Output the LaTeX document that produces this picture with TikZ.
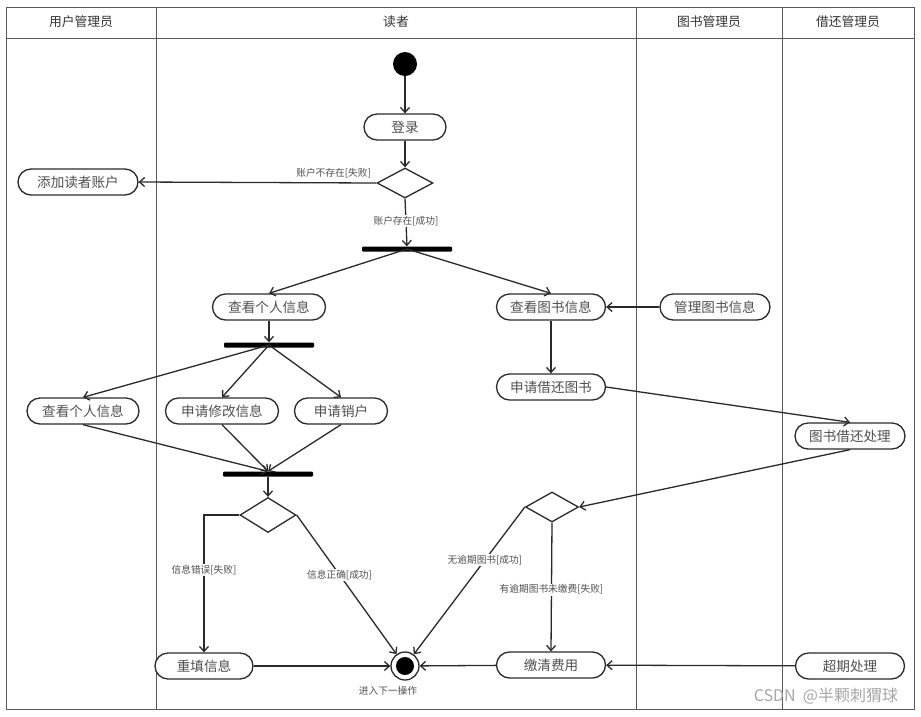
\documentclass[tikz,border=0pt]{standalone}
\usepackage{fontspec}
\newfontfamily\cjk{Noto Sans CJK SC}
\usetikzlibrary{shapes.geometric,arrows.meta}
\definecolor{ln}{HTML}{2A2A2A}
\definecolor{tx}{HTML}{505050}
\tikzset{
  act/.style={draw=ln, line width=1.3pt, rectangle, rounded corners=13pt, minimum height=26pt,
    inner sep=0pt, text=tx, font=\cjk\fontsize{13.6}{14}\selectfont, fill=white},
  bar/.style={fill=black, rectangle, minimum height=5pt, inner sep=0pt, rounded corners=1pt},
  dia/.style={draw=ln, line width=1.3pt, diamond, inner sep=0pt, fill=white},
  ar/.style={draw=ln, line width=1.3pt, -{Straight Barb[length=5pt,width=9pt]}},
  lbl/.style={text=tx, font=\cjk\fontsize{9.7}{10}\selectfont, inner sep=1pt},
  hdr/.style={text=black!80, font=\cjk\fontsize{12.8}{13}\selectfont},
  frm/.style={draw=black!65, line width=0.8pt}
}
\begin{document}
\begin{tikzpicture}[x=1pt,y=-1pt]
\useasboundingbox[fill=white] (0,0) rectangle (921,716);
% frame
\draw[frm] (6,7) rectangle (914,709);
\draw[frm] (6,38) -- (914,38);
\draw[frm] (156,7) -- (156,709);
\draw[frm] (636,7) -- (636,709);
\draw[frm] (782,7) -- (782,709);
\node[hdr] (h1) at (81,22) {用户管理员};
\node[hdr] (h2) at (396,22) {读者};
\node[hdr] (h3) at (709,22) {图书管理员};
\node[hdr] (h4) at (848,22) {借还管理员};
% nodes
\node[circle, fill=black, minimum size=24pt, inner sep=0pt] (start) at (405,64) {};
\node[act, minimum width=82pt] (login) at (405,127) {登录};
\node[dia, minimum width=56pt, minimum height=30pt] (d1) at (405,183) {};
\node[act, minimum width=120pt] (add) at (78,182) {添加读者账户};
\node[bar, minimum width=90pt] (fork1) at (407,249) {};
\node[act, minimum width=113pt] (viewP) at (269,307) {查看个人信息};
\node[act, minimum width=109pt] (viewB) at (551,307) {查看图书信息};
\node[act, minimum width=110pt] (manageB) at (715,307) {管理图书信息};
\node[bar, minimum width=90pt] (fork2) at (269,345) {};
\node[act, minimum width=112pt] (viewP2) at (83,411) {查看个人信息};
\node[act, minimum width=113pt] (modify) at (222,411) {申请修改信息};
\node[act, minimum width=93pt] (cancel) at (341,411) {申请销户};
\node[act, minimum width=109pt] (borrow) at (551,387) {申请借还图书};
\node[act, minimum width=110pt] (proc) at (850,436) {图书借还处理};
\node[bar, minimum width=90pt] (join) at (268,474) {};
\node[dia, minimum width=56pt, minimum height=35pt] (d2) at (268,515) {};
\node[dia, minimum width=53pt, minimum height=30pt] (d3) at (552,507) {};
\node[act, minimum width=98pt] (refill) at (204,666) {重填信息};
\node[circle, draw=ln, line width=1.3pt, minimum size=28pt, inner sep=0pt] (end) at (405,666) {};
\fill[black] (end.center) circle (9pt);
\node[act, minimum width=109pt] (pay) at (551,665) {缴清费用};
\node[act, minimum width=109pt] (over) at (850,666) {超期处理};
\node[lbl] (endl) at (388,691) {进入下一操作};
% edges
\draw[ar] (start) -- (login);
\draw[ar] (login) -- (d1.north);
\draw[ar] (d1.west) -- node[lbl, pos=0.18, above=3pt] {账户不存在[失败]} (add.east);
\draw[ar] (d1.south) -- node[lbl, pos=0.47, fill=white] {账户存在[成功]} (fork1.north);
\draw[ar] (fork1.center) -- (viewP.north);
\draw[ar] (fork1.center) -- (viewB.north);
\draw[ar] (manageB) -- (viewB);
\draw[ar] (viewP) -- (fork2.north);
\draw[ar] (fork2.center) -- (viewP2.north);
\draw[ar] (fork2.center) -- (modify.north);
\draw[ar] (fork2.center) -- (cancel.north);
\draw[ar] (viewP2.south) -- (join.north);
\draw[ar] (modify.south) -- (join.north);
\draw[ar] (cancel.south) -- (join.north);
\draw[ar] (join) -- (d2.north);
\draw[ar] (d2.west) -| node[lbl, pos=0.7, fill=white] {信息错误[失败]} (refill.north);
\draw[ar] (d2.east) -- node[lbl, pos=0.43, fill=white] {信息正确[成功]} (end);
\draw[ar] (refill) -- (end);
\draw[ar] (viewB) -- (borrow);
\draw[ar] (borrow.east) -- (proc.north);
\draw[ar] (proc.south) -- (d3.east);
\draw[ar] (d3.west) -- node[lbl, pos=0.36, fill=white] {无逾期图书[成功]} (end);
\draw[ar] (d3.south) -- node[lbl, pos=0.52, fill=white] {有逾期图书未缴费[失败]} (pay.north);
\draw[ar] (pay) -- (end);
\draw[ar] (over) -- (pay);
% watermark
\node[text=black!35, font=\cjk\fontsize{16}{17}\selectfont, inner sep=0pt] (wm) at (826,696) {CSDN\ \ @半颗刺猬球};
\end{tikzpicture}
\end{document}
